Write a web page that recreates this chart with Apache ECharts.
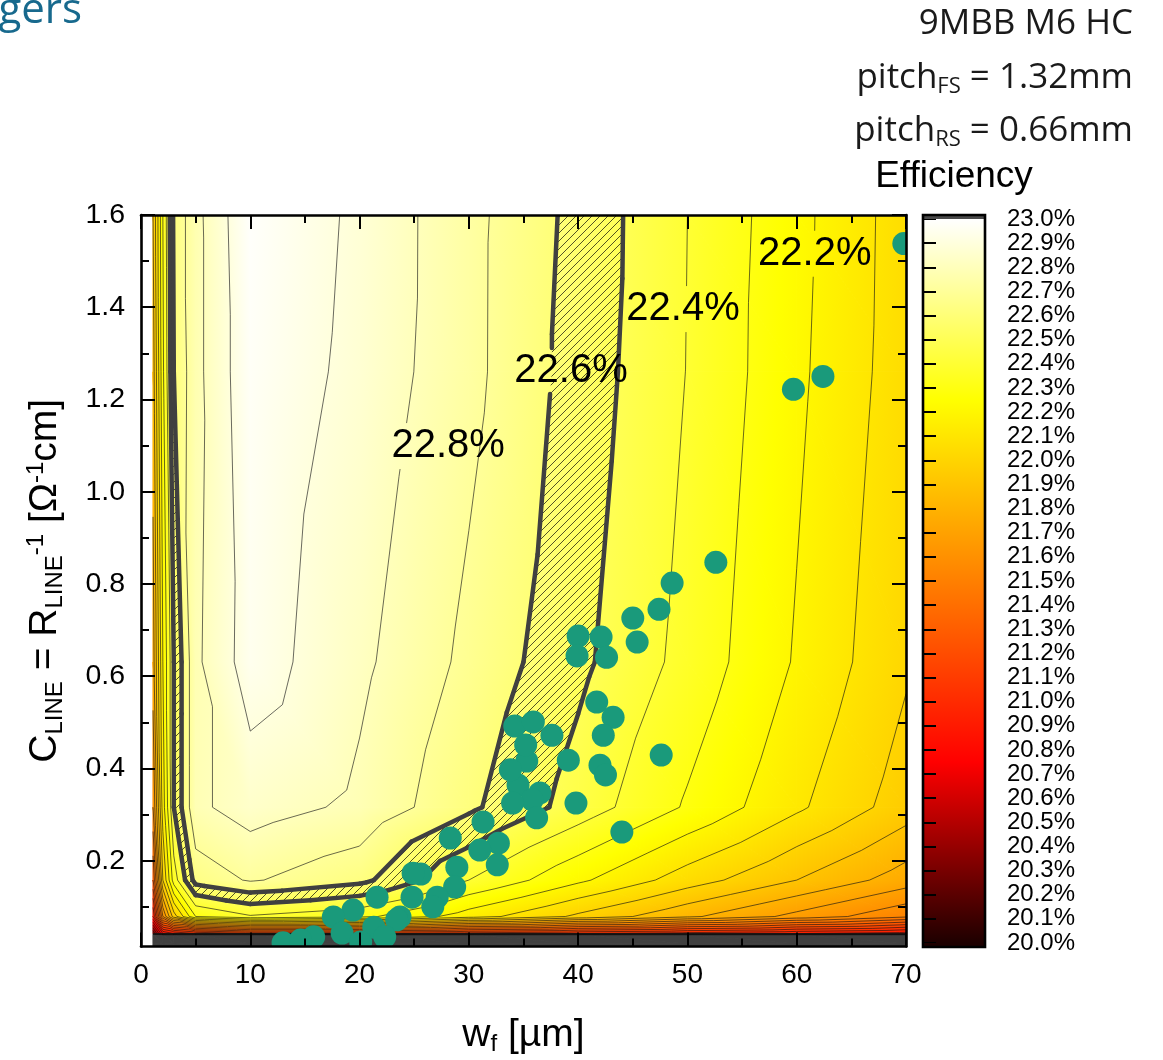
<!DOCTYPE html>
<html>
<head>
<meta charset="utf-8">
<title>Efficiency map</title>
<script src="https://cdn.jsdelivr.net/npm/echarts@6/dist/echarts.min.js"></script>
<style>
  html, body { margin: 0; padding: 0; background: #fff; }
  #chart { width: 1163px; height: 1060px; }
</style>
</head>
<body>
<div id="chart"></div>
<script>
// ---- simulation grid ----
// finger width w_f [µm]
const wfGrid = [1.1, 2, 3, 5, 10, 20, 30, 40, 50, 60, 70];
// line conductance C_LINE [Ω^-1 cm]
const cLineGrid = [0.014, 0.0198, 0.0395, 0.042, 0.079, 0.158, 0.316, 0.631, 1.26, 1.6];
// cell efficiency [%]: one row per cLineGrid value, one column per wfGrid value
const efficiency = [
  [19.3, 19.3, 19.3, 19.3, 19.3, 19.3, 19.3, 19.3, 19.3, 19.3, 19.3],
  [19.6, 19.6, 19.6, 19.6, 19.6, 19.6, 19.6, 19.6, 19.6, 19.6, 19.6],
  [19.9, 19.98, 19.98, 19.98, 19.98, 19.98, 19.98, 19.98, 19.98, 19.98, 19.98],
  [20.3, 20.8, 20.9, 21.0, 21.1, 21.1, 21.05, 21.0, 20.95, 20.9, 20.85],
  [20.9, 21.6, 21.95, 22.3, 22.39, 22.33, 22.15, 21.98, 21.82, 21.67, 21.52],
  [21.3, 22.0, 22.35, 22.64, 22.71, 22.63, 22.40, 22.22, 22.05, 21.90, 21.75],
  [21.6, 22.15, 22.5, 22.78, 22.845, 22.78, 22.62, 22.457, 22.288, 22.118, 21.95],
  [21.75, 22.2, 22.5, 22.78, 22.95, 22.822, 22.676, 22.524, 22.367, 22.19, 22.014],
  [21.85, 22.28, 22.6, 22.77, 22.975, 22.87, 22.729, 22.559, 22.397, 22.221, 22.046],
  [21.9, 22.3, 22.62, 22.77, 22.99, 22.88, 22.73, 22.57, 22.40, 22.23, 22.05]
];

// contour levels [%]
const contourLevels = [20.0, 20.1, 20.2, 20.3, 20.4, 20.5, 20.6, 20.7, 20.8, 20.9,
  21.0, 21.1, 21.2, 21.3, 21.4, 21.5, 21.6, 21.7, 21.8, 21.9,
  22.0, 22.1, 22.2, 22.3, 22.4, 22.5, 22.6, 22.7, 22.8, 22.9, 23.0];
const boldLevels = [22.5, 22.6];
const hatchBand = [22.5, 22.6];

// labelled contours
const labelLevels = [22.8, 22.6, 22.4, 22.2];
const labelTexts = ['22.8%', '22.6%', '22.4%', '22.2%'];
const labelPlacement = [[28.1, 1.099], [39.35, 1.262], [49.6, 1.396], [61.65, 1.516]];

// measured cells
const sampleWf = [69.8, 59.7, 62.4, 52.6, 48.6, 47.4, 45.0, 45.4, 40.0, 42.1, 39.9, 42.6, 47.6,
  34.2, 35.9, 37.6, 41.7, 43.2, 42.3, 39.1, 42.0, 42.5, 39.8, 44.0, 35.3, 34.5, 36.5, 35.8,
  34.0, 36.2, 31.3, 28.3, 32.7, 32.6, 31.0, 25.6, 28.9, 28.7, 27.1, 24.8, 23.7, 26.7, 21.6,
  24.9, 19.4, 17.6, 21.3, 23.4, 15.8, 13.0, 14.6, 18.4, 20.1, 22.3, 33.8, 35.2];
const sampleCLine = [1.538, 1.222, 1.250, 0.847, 0.802, 0.745, 0.726, 0.674, 0.687, 0.685, 0.644, 0.641, 0.429,
  0.492, 0.501, 0.472, 0.544, 0.511, 0.472, 0.418, 0.407, 0.386, 0.325, 0.262, 0.416, 0.364, 0.347, 0.332,
  0.325, 0.293, 0.284, 0.249, 0.238, 0.191, 0.223, 0.171, 0.186, 0.143, 0.121, 0.121, 0.078, 0.100, 0.121,
  0.173, 0.093, 0.078, 0.056, 0.072, 0.035, 0.022, 0.028, 0.043, 0.024, 0.035, 0.397, 0.451];

// axis ticks
const cLineMajor = [0.2, 0.4, 0.6, 0.8, 1.0, 1.2, 1.4, 1.6];
const cLineMinor = [0.1, 0.3, 0.5, 0.7, 0.9, 1.1, 1.3, 1.5];

// ---- colour ramp (below 20 % shown grey) ----
const rampLo = 19.0, rampHi = 23.0;
const ramp = [[19.0, '#404040'], [19.995, '#404040'], [20.0, '#1e0000'],
  [20.75, '#ff0000'], [22.25, '#ffff00'], [23.0, '#ffffff']];
const rampStops = ramp.map(([v, c]) => ({ offset: (v - rampLo) / (rampHi - rampLo), color: c }));

function hexRgb(h) { return [1, 3, 5].map(i => parseInt(h.substr(i, 2), 16)); }
function rampColor(v) {
  if (v <= ramp[0][0]) return ramp[0][1];
  for (let i = 1; i < ramp.length; i++) {
    if (v <= ramp[i][0]) {
      const t = (v - ramp[i - 1][0]) / (ramp[i][0] - ramp[i - 1][0]);
      const a = hexRgb(ramp[i - 1][1]), b = hexRgb(ramp[i][1]);
      return 'rgb(' + a.map((c, k) => Math.round(c + t * (b[k] - c))).join(',') + ')';
    }
  }
  return ramp[ramp.length - 1][1];
}

// ---- triangulated grid ----
const triangles = [];
for (let j = 0; j < cLineGrid.length - 1; j++) {
  for (let i = 0; i < wfGrid.length - 1; i++) {
    const n = (ii, jj) => ({ x: wfGrid[ii], y: cLineGrid[jj], v: efficiency[jj][ii] });
    const a = n(i, j), b = n(i + 1, j), c = n(i, j + 1), d = n(i + 1, j + 1);
    triangles.push([a, b, c], [b, d, c]);
  }
}
const triCentres = triangles.map(t => [(t[0].x + t[1].x + t[2].x) / 3, (t[0].y + t[1].y + t[2].y) / 3]);

function clipBand(poly, lo, hi) {
  const cut = (pts, L, keepAbove) => {
    const out = [];
    for (let k = 0; k < pts.length; k++) {
      const P = pts[k], Q = pts[(k + 1) % pts.length];
      const pin = keepAbove ? P.v >= L : P.v <= L;
      const qin = keepAbove ? Q.v >= L : Q.v <= L;
      if (pin) out.push(P);
      if (pin !== qin) {
        const t = (L - P.v) / (Q.v - P.v);
        out.push({ x: P.x + t * (Q.x - P.x), y: P.y + t * (Q.y - P.y), v: L });
      }
    }
    return out;
  };
  return cut(cut(poly, lo, true), hi, false);
}

function levelSegment(tri, L) {
  const pts = [];
  for (let k = 0; k < 3; k++) {
    const a = tri[k], b = tri[(k + 1) % 3];
    const da = a.v - L, db = b.v - L;
    if ((da < 0) !== (db < 0)) {
      const t = da / (da - db);
      pts.push([a.x + t * (b.x - a.x), a.y + t * (b.y - a.y)]);
    }
  }
  return pts.length === 2 ? pts : null;
}

// remove the part of a segment that runs under a label box
function cutOut(s, box) {
  const [x1, y1, x2, y2] = s, dx = x2 - x1, dy = y2 - y1;
  const p = [-dx, dx, -dy, dy];
  const q = [x1 - box.x0, box.x1 - x1, y1 - box.y0, box.y1 - y1];
  let t0 = 0, t1 = 1;
  for (let i = 0; i < 4; i++) {
    if (p[i] === 0) { if (q[i] < 0) return [s]; }
    else {
      const r = q[i] / p[i];
      if (p[i] < 0) t0 = Math.max(t0, r); else t1 = Math.min(t1, r);
    }
  }
  if (t0 >= t1) return [s];
  const out = [];
  if (t0 > 0) out.push([x1, y1, x1 + t0 * dx, y1 + t0 * dy]);
  if (t1 < 1) out.push([x1 + t1 * dx, y1 + t1 * dy, x2, y2]);
  return out;
}

const LABEL_FONT = 40, GAP_HALF_W = 60, GAP_HALF_H = 23;
function gapBoxes(api, L) {
  const boxes = [];
  labelLevels.forEach((lv, i) => {
    if (Math.abs(lv - L) > 1e-6) return;
    const c = api.coord(labelPlacement[i]);
    boxes.push({ x0: c[0] - GAP_HALF_W, x1: c[0] + GAP_HALF_W, y0: c[1] - GAP_HALF_H, y1: c[1] + GAP_HALF_H });
  });
  return boxes;
}

function makeHatch() {
  const c = document.createElement('canvas');
  c.width = 8; c.height = 8;
  const g = c.getContext('2d');
  g.strokeStyle = 'rgba(0,0,0,0.85)';
  g.lineWidth = 0.8;
  g.beginPath();
  g.moveTo(-1, 9); g.lineTo(9, -1);
  g.moveTo(-1, 1); g.lineTo(1, -1);
  g.moveTo(7, 9); g.lineTo(9, 7);
  g.stroke();
  return c;
}
const hatchFill = { image: makeHatch(), repeat: 'repeat' };

function renderFill(params, api) {
  const tri = triangles[params.dataIndex];
  const p = tri.map(n => api.coord([n.x, n.y]));
  const v = tri.map(n => n.v);
  const e1x = p[1][0] - p[0][0], e1y = p[1][1] - p[0][1];
  const e2x = p[2][0] - p[0][0], e2y = p[2][1] - p[0][1];
  const d1 = v[1] - v[0], d2 = v[2] - v[0];
  const det = e1x * e2y - e1y * e2x;
  const gx = (d1 * e2y - d2 * e1y) / det, gy = (e1x * d2 - e2x * d1) / det;
  const g2 = gx * gx + gy * gy;
  let fill;
  if (!isFinite(g2) || g2 < 1e-14) fill = rampColor(v[0]);
  else {
    const s0 = (rampLo - v[0]) / g2, s1 = (rampHi - v[0]) / g2;
    fill = new echarts.graphic.LinearGradient(
      p[0][0] + s0 * gx, p[0][1] + s0 * gy, p[0][0] + s1 * gx, p[0][1] + s1 * gy, rampStops, true);
  }
  return { type: 'polygon', shape: { points: p }, style: { fill: fill, stroke: fill, lineWidth: 0.7 } };
}

function renderHatch(params, api) {
  const poly = clipBand(triangles[params.dataIndex], hatchBand[0], hatchBand[1]);
  if (poly.length < 3) return { type: 'group', children: [] };
  return {
    type: 'polygon',
    shape: { points: poly.map(n => api.coord([n.x, n.y])) },
    style: { fill: hatchFill }
  };
}

function makeLineRenderer(levels, lineStyle) {
  return function (params, api) {
    const tri = triangles[params.dataIndex];
    const children = [];
    levels.forEach(L => {
      const seg = levelSegment(tri, L);
      if (!seg) return;
      const a = api.coord(seg[0]), b = api.coord(seg[1]);
      let pieces = [[a[0], a[1], b[0], b[1]]];
      gapBoxes(api, L).forEach(box => { pieces = pieces.flatMap(s => cutOut(s, box)); });
      pieces.forEach(s => children.push({
        type: 'line',
        shape: { x1: s[0], y1: s[1], x2: s[2], y2: s[3] },
        style: Object.assign({}, lineStyle)
      }));
    });
    return { type: 'group', children: children };
  };
}
const thinLevels = contourLevels.filter(l => boldLevels.every(b => Math.abs(b - l) > 1e-6));

// ---- layout ----
const PLOT = { left: 141, top: 215, width: 765, height: 731.5 };
const CBAR = { left: 923, top: 219, width: 62, height: 724 };
const FONT = '"Liberation Sans", Arial, sans-serif';
const HEAD_FONT = '"Open Sans", "Noto Sans", sans-serif';
const tickStyle = { color: '#000', width: 2 };
const frameStyle = { color: '#000', width: 2.6 };

const chart = echarts.init(document.getElementById('chart'), null, { renderer: 'canvas' });

const titleRich = {
  m: { fontSize: 39, fontFamily: FONT, color: '#000', lineHeight: 43 },
  s: { fontSize: 24, fontFamily: FONT, color: '#000', lineHeight: 16, verticalAlign: 'bottom' },
  p: { fontSize: 24, fontFamily: FONT, color: '#000', lineHeight: 16, verticalAlign: 'top' }
};

function yAxisFor(position, ticks, length, withLabels, withLine) {
  return {
    gridIndex: 0, type: 'value', position: position, min: 0.014, max: 1.6, z: 10,
    axisLine: { show: withLine, onZero: false, lineStyle: frameStyle },
    axisTick: { show: true, inside: true, length: length, customValues: ticks, lineStyle: tickStyle },
    axisLabel: withLabels ? {
      show: true, customValues: cLineMajor, margin: 16, fontSize: 28.5, fontFamily: FONT, color: '#000',
      formatter: v => v.toFixed(1)
    } : { show: false },
    splitLine: { show: false }
  };
}

const option = {
  animation: false,
  backgroundColor: '#fff',
  grid: [
    Object.assign({ containLabel: false, outerBoundsMode: 'none' }, PLOT),
    Object.assign({ containLabel: false, outerBoundsMode: 'none' }, CBAR)
  ],
  xAxis: [
    {
      gridIndex: 0, type: 'value', min: 0, max: 70, interval: 10, position: 'bottom', z: 10,
      axisLine: { show: true, onZero: false, lineStyle: frameStyle },
      axisTick: { show: true, inside: true, length: 14, lineStyle: tickStyle },
      minorTick: { show: true, splitNumber: 2, length: 8, lineStyle: tickStyle },
      axisLabel: { margin: 15, fontSize: 28, fontFamily: FONT, color: '#000' },
      splitLine: { show: false }, minorSplitLine: { show: false },
      name: '{m|w}{s|f}{m| [µm]}', nameLocation: 'middle', nameGap: 67,
      nameTextStyle: { rich: titleRich }
    },
    {
      gridIndex: 0, type: 'value', min: 0, max: 70, interval: 10, position: 'top', z: 10,
      axisLine: { show: true, onZero: false, lineStyle: frameStyle },
      axisTick: { show: true, inside: true, length: 14, lineStyle: tickStyle },
      minorTick: { show: true, splitNumber: 2, length: 8, lineStyle: tickStyle },
      axisLabel: { show: false }, splitLine: { show: false }
    },
    { gridIndex: 1, type: 'value', min: 0, max: 1, show: false }
  ],
  yAxis: [
    Object.assign(yAxisFor('left', cLineMajor, 14, true, true), {
      name: '{m|C}{s|LINE}{m| = R}{s|LINE}{p|-1}{m| [Ω}{p|-1}{m|cm]}',
      nameLocation: 'middle', nameGap: 74, nameRotate: 90,
      nameTextStyle: { rich: titleRich }
    }),
    yAxisFor('left', cLineMinor, 8, false, false),
    yAxisFor('right', cLineMajor, 14, false, true),
    yAxisFor('right', cLineMinor, 8, false, false),
    {
      gridIndex: 1, type: 'value', position: 'right', min: 20, max: 23, interval: 0.1, z: 10,
      axisLine: { show: false },
      axisTick: { show: true, inside: false, length: 13, lineStyle: tickStyle },
      axisLabel: {
        show: true, margin: 22, fontSize: 24, fontFamily: FONT, color: '#000',
        showMinLabel: true, showMaxLabel: true,
        formatter: v => v.toFixed(1) + '%'
      },
      splitLine: { show: false }
    }
  ],
  series: [
    {
      type: 'custom', name: 'efficiency', xAxisIndex: 0, yAxisIndex: 0, z: 1, clip: true,
      data: triCentres, renderItem: renderFill, silent: true
    },
    {
      type: 'custom', name: 'hatch', xAxisIndex: 0, yAxisIndex: 0, z: 2, clip: true,
      data: triCentres, renderItem: renderHatch, silent: true
    },
    {
      type: 'custom', name: 'contours', xAxisIndex: 0, yAxisIndex: 0, z: 3, clip: true,
      data: triCentres, silent: true,
      renderItem: makeLineRenderer(thinLevels, { stroke: 'rgba(20,20,20,0.8)', lineWidth: 0.8 })
    },
    {
      type: 'custom', name: 'bold contours', xAxisIndex: 0, yAxisIndex: 0, z: 4, clip: true,
      data: triCentres, silent: true,
      renderItem: makeLineRenderer(boldLevels, { stroke: '#404040', lineWidth: 4.5, lineCap: 'round' })
    },
    {
      type: 'custom', name: 'contour labels', xAxisIndex: 0, yAxisIndex: 0, z: 5,
      data: labelPlacement, silent: true,
      renderItem: (params, api) => {
        const c = api.coord(labelPlacement[params.dataIndex]);
        return {
          type: 'text', x: c[0], y: c[1],
          style: {
            text: labelTexts[params.dataIndex], fill: '#000',
            fontSize: LABEL_FONT, fontFamily: FONT, align: 'center', verticalAlign: 'middle'
          }
        };
      }
    },
    {
      type: 'custom', name: 'cells', xAxisIndex: 0, yAxisIndex: 0, z: 6, clip: true,
      data: sampleWf.map((x, i) => [x, sampleCLine[i]]), silent: true,
      renderItem: (params, api) => {
        const c = api.coord([api.value(0), api.value(1)]);
        return { type: 'circle', shape: { cx: c[0], cy: c[1], r: 11.5 }, style: { fill: '#1a9a7b' } };
      }
    },
    {
      type: 'custom', name: 'colour scale', xAxisIndex: 2, yAxisIndex: 4, z: 1,
      data: [[0.5, 21.5]], silent: true,
      renderItem: (params, api) => {
        const top = api.coord([0, 23]), bot = api.coord([1, 20]);
        const yLo = api.coord([0, rampLo])[1], yHi = api.coord([0, rampHi])[1];
        return {
          type: 'rect',
          shape: { x: top[0], y: top[1], width: bot[0] - top[0], height: bot[1] - top[1] },
          style: { fill: new echarts.graphic.LinearGradient(0, yLo, 0, yHi, rampStops, true) }
        };
      }
    }
  ]
};
chart.setOption(option);

// ---- annotations: header, colour-scale frame and hatch key ----
const y226 = chart.convertToPixel({ yAxisIndex: 4 }, 22.6);
const y225 = chart.convertToPixel({ yAxisIndex: 4 }, 22.5);
const hatchKey = [];
[933, 947, 961, 974].forEach(x0 => {
  for (let yy = y226 + 2; yy + 4 <= y225 - 1; yy += 4) {
    hatchKey.push({
      type: 'line', shape: { x1: x0, y1: yy + 4, x2: x0 + 6, y2: yy },
      style: { stroke: 'rgba(40,40,40,0.9)', lineWidth: 0.9 }
    });
  }
});

const headRich = {
  a: { fontSize: 35, fontFamily: HEAD_FONT, fill: '#1a1a1a', lineHeight: 40 },
  s: { fontSize: 22, fontFamily: HEAD_FONT, fill: '#1a1a1a', lineHeight: 12, verticalAlign: 'bottom' }
};

chart.setOption({
  graphic: [
    {
      type: 'text', x: 82, y: 11, z: 20,
      style: { text: 'gers', fontSize: 42, fontFamily: HEAD_FONT, fill: '#17698d', align: 'right', verticalAlign: 'middle' }
    },
    {
      type: 'text', x: 1133, y: 24.5, z: 20,
      style: { text: '9MBB M6 HC', fontSize: 35, fontFamily: HEAD_FONT, fill: '#1a1a1a', align: 'right', verticalAlign: 'middle' }
    },
    {
      type: 'text', x: 1133, y: 78, z: 20,
      style: { text: '{a|pitch}{s|FS}{a| = 1.32mm}', rich: headRich, align: 'right', verticalAlign: 'middle' }
    },
    {
      type: 'text', x: 1133, y: 131, z: 20,
      style: { text: '{a|pitch}{s|RS}{a| = 0.66mm}', rich: headRich, align: 'right', verticalAlign: 'middle' }
    },
    {
      type: 'text', x: 954, y: 177, z: 20,
      style: { text: 'Efficiency', fontSize: 37, fontFamily: FONT, fill: '#000', align: 'center', verticalAlign: 'middle' }
    },
    {
      type: 'rect', z: 20,
      shape: { x: CBAR.left, y: CBAR.top - 4, width: CBAR.width, height: 4 },
      style: { fill: '#4a4a4a' }
    },
    {
      type: 'rect', z: 20,
      shape: { x: CBAR.left, y: CBAR.top + CBAR.height, width: CBAR.width, height: 4 },
      style: { fill: '#1e0000' }
    },
    {
      type: 'rect', z: 21,
      shape: { x: CBAR.left, y: CBAR.top - 4, width: CBAR.width, height: CBAR.height + 8 },
      style: { fill: 'none', stroke: '#000', lineWidth: 2.6 }
    },
    { type: 'group', z: 21, children: hatchKey }
  ]
});
</script>
</body>
</html>
